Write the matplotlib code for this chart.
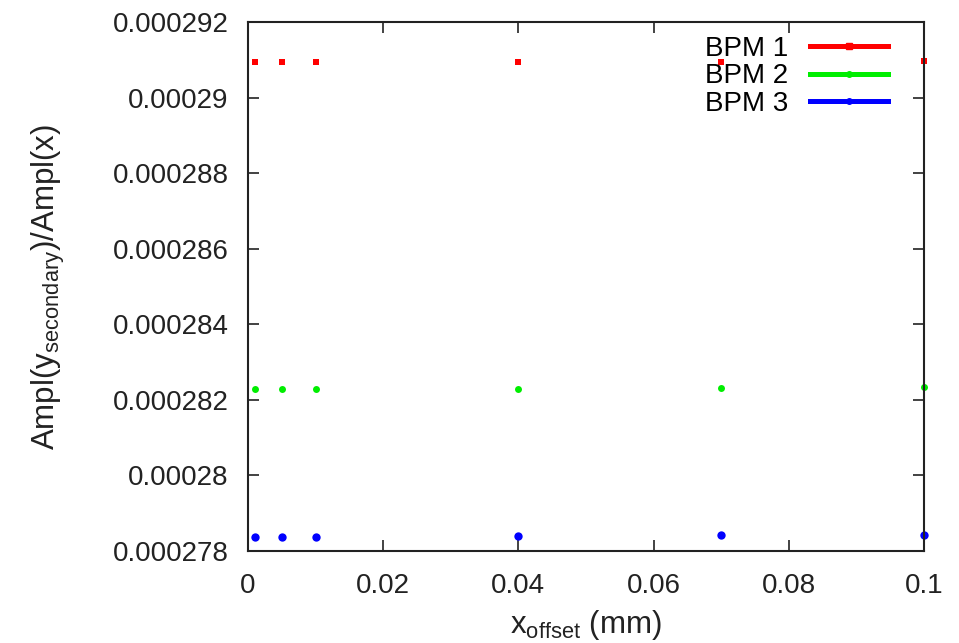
import matplotlib
matplotlib.use("Agg")
import matplotlib.pyplot as plt
from matplotlib.ticker import FuncFormatter, FixedLocator
from matplotlib.lines import Line2D

plt.rcParams['font.family'] = ['Liberation Sans', 'DejaVu Sans']
plt.rcParams['mathtext.default'] = 'regular'

x_offset = [0.001, 0.005, 0.01, 0.04, 0.07, 0.1]
bpm1 = [0.00029094, 0.00029094, 0.00029094, 0.00029094, 0.00029095, 0.00029097]
bpm2 = [0.00028229, 0.00028229, 0.00028229, 0.00028230, 0.00028231, 0.00028234]
bpm3 = [0.00027838, 0.00027838, 0.00027838, 0.00027839, 0.00027843, 0.00027843]
labels = ["BPM 1", "BPM 2", "BPM 3"]
colors = ["#ff0000", "#00ee00", "#0000ff"]
xticks = [0, 0.02, 0.04, 0.06, 0.08, 0.1]
yticks = [0.000278, 0.00028, 0.000282, 0.000284, 0.000286, 0.000288, 0.00029, 0.000292]

FS = 20
LFS = 22.5
fig = plt.figure(figsize=(9.59, 6.43), dpi=100)
L, R, T, B = 248, 924, 22, 551
ax = fig.add_axes([L/959, 1-B/643, (R-L)/959, (B-T)/643])

markers = ['s', 'o', 'o']
msizes = [4, 5, 6]
for ys, lab, c, m, ms in zip([bpm1, bpm2, bpm3], labels, colors, markers, msizes):
    ax.plot(x_offset, ys, linestyle='none', marker=m, markersize=ms, color=c,
            markeredgewidth=0, clip_on=False)

ax.set_xlim(0, 0.1)
ax.set_ylim(0.000278, 0.000292)
ax.xaxis.set_major_locator(FixedLocator(xticks))
ax.yaxis.set_major_locator(FixedLocator(yticks))
fmt = FuncFormatter(lambda v, p: '%g' % v)
ax.xaxis.set_major_formatter(fmt)
ax.yaxis.set_major_formatter(fmt)
ax.tick_params(direction='in', length=8, width=1.2, top=True, right=True,
               labelsize=FS, colors='#222222')
ax.tick_params(axis='x', pad=16)
ax.tick_params(axis='y', pad=14)
for s in ax.spines.values():
    s.set_linewidth(1.5)
    s.set_color('#222222')

ax.set_xlabel('x$_{offset}$ (mm)', fontsize=LFS, labelpad=6, color='#222222')
ax.set_ylabel('Ampl(y$_{secondary}$)/Ampl(x)', fontsize=LFS, labelpad=33, color='#222222')

handles = [Line2D([], [], color=c, lw=3.6, marker=m, markersize=4) for c, m in zip(colors, markers)]
ax.legend(handles, labels, loc='upper right', frameon=False, markerfirst=False,
          fontsize=FS, handlelength=2.8, handletextpad=0.8, labelspacing=0.05,
          borderpad=0, borderaxespad=0,
          bbox_to_anchor=((888 - L)/(R - L), (B - 36)/(B - T)))

fig.savefig('out.png', dpi=100)
